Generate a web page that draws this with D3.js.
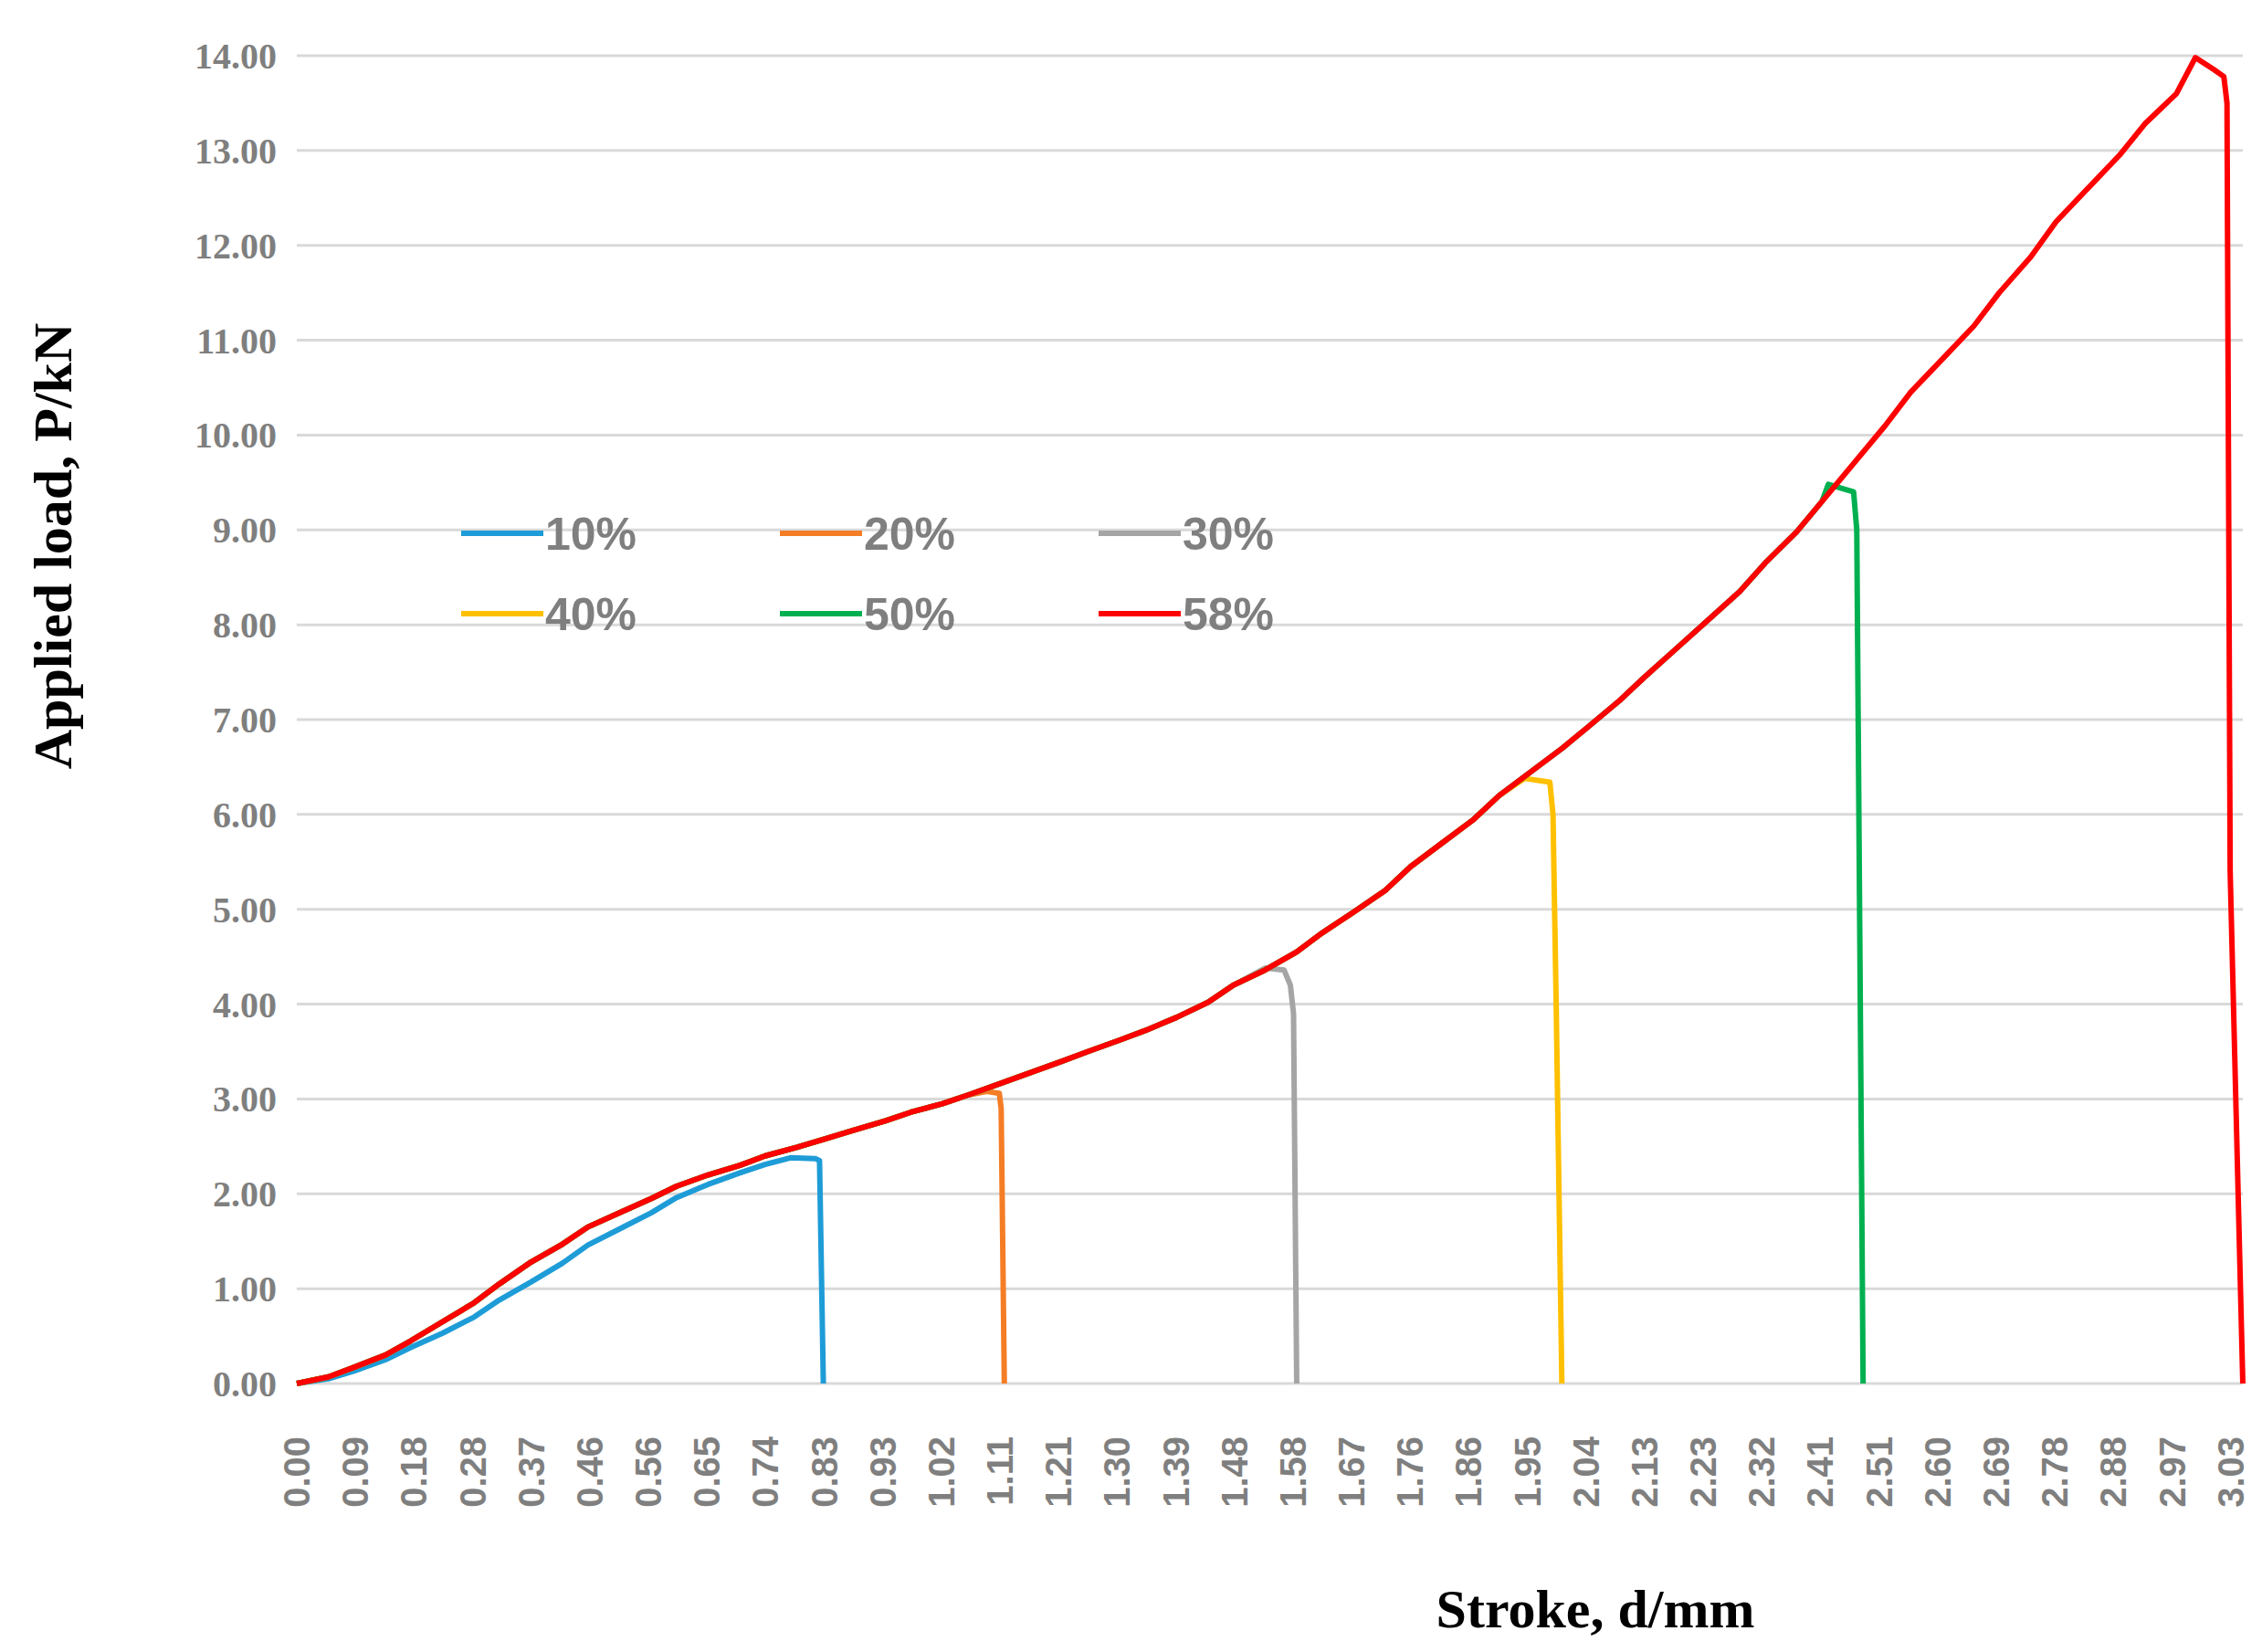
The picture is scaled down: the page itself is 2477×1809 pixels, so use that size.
<!DOCTYPE html>
<html>
<head>
<meta charset="utf-8">
<script src="https://cdn.jsdelivr.net/npm/d3@7/dist/d3.min.js"></script>
<style>
  body { margin: 0; background: #fff; }
</style>
</head>
<body>
<svg id="chart" width="2477" height="1809"></svg>
<script>
// x tick labels (category axis in the original)
var xTickLabels = ["0.00","0.09","0.18","0.28","0.37","0.46","0.56","0.65","0.74","0.83","0.93","1.02","1.11","1.21","1.30","1.39","1.48","1.58","1.67","1.76","1.86","1.95","2.04","2.13","2.23","2.32","2.41","2.51","2.60","2.69","2.78","2.88","2.97","3.03"];
var yTicks = [0,1,2,3,4,5,6,7,8,9,10,11,12,13,14];

// shared loading envelope [stroke mm, load kN]
var envelope = [[0,0],[0.05,0.07],[0.09,0.17],[0.14,0.3],[0.18,0.45],[0.23,0.65],[0.28,0.85],[0.32,1.05],[0.37,1.28],[0.42,1.47],[0.46,1.65],[0.51,1.8],[0.56,1.95],[0.60,2.08],[0.65,2.2],[0.70,2.3],[0.74,2.4],[0.79,2.49],[0.83,2.57],[0.88,2.67],[0.93,2.77],[0.97,2.86],[1.02,2.95],[1.06,3.04],[1.11,3.16],[1.16,3.28],[1.21,3.4],[1.25,3.5],[1.30,3.62],[1.34,3.72],[1.39,3.86],[1.44,4.02],[1.48,4.2],[1.53,4.36],[1.58,4.55],[1.62,4.75],[1.67,4.97],[1.72,5.2],[1.76,5.45],[1.81,5.7],[1.86,5.95],[1.90,6.2],[1.95,6.45],[2.00,6.7],[2.04,6.92],[2.09,7.2],[2.13,7.45],[2.18,7.75],[2.23,8.05],[2.28,8.35],[2.32,8.65],[2.37,8.98],[2.41,9.3],[2.46,9.7],[2.51,10.1],[2.55,10.45],[2.60,10.8],[2.65,11.15],[2.69,11.5],[2.74,11.88],[2.78,12.25],[2.83,12.6],[2.88,12.95],[2.92,13.28],[2.97,13.6]];

// blue curve lies below the envelope
var s10 = [[0,0],[0.05,0.05],[0.09,0.13],[0.14,0.25],[0.18,0.38],[0.23,0.53],[0.28,0.7],[0.32,0.88],[0.37,1.07],[0.42,1.27],[0.46,1.46],[0.51,1.63],[0.56,1.8],[0.60,1.96],[0.65,2.1],[0.70,2.22],[0.74,2.31],[0.78,2.38],[0.82,2.37],[0.826,2.35],[0.832,0]];
// tails of the other series after leaving the envelope
var tail20 = [[1.09,3.08],[1.11,3.06],[1.113,2.9],[1.118,0]];
var tail30 = [[1.53,4.38],[1.56,4.36],[1.57,4.2],[1.575,3.9],[1.58,0]];
var tail40 = [[1.94,6.38],[1.98,6.34],[1.985,6.0],[1.99,4.0],[1.999,0]];
var tail50 = [[2.42,9.48],[2.46,9.4],[2.465,9.0],[2.475,0]];
var tail58 = [[3.0,13.98],[3.03,13.85],[3.045,13.78],[3.05,13.5],[3.055,5.4],[3.075,0]];

var names = ["10%","20%","30%","40%","50%","58%"];
var colors = ["#1e9cd7","#f47d25","#a5a5a5","#ffc000","#00b050","#ff0000"];

function withTail(tail) {
  return envelope.filter(function(p) { return p[0] < tail[0][0]; }).concat(tail);
}
var series = [s10, withTail(tail20), withTail(tail30), withTail(tail40), withTail(tail50), withTail(tail58)];

var svg = d3.select("#chart");
var plotLeft = 325, plotRight = 2456, plotTop = 61, plotBottom = 1515;
var step = 0.0926;

var x = d3.scaleLinear().domain([0, 3.075]).range([plotLeft, plotRight]);
var y = d3.scaleLinear().domain([0, 14]).range([plotBottom, plotTop]);

// gridlines
svg.append("g").selectAll("line").data(yTicks).enter().append("line")
  .attr("x1", plotLeft).attr("x2", plotRight)
  .attr("y1", function(d) { return y(d); }).attr("y2", function(d) { return y(d); })
  .attr("stroke", "#d9d9d9").attr("stroke-width", 3);

// y tick labels
svg.append("g").selectAll("text").data(yTicks).enter().append("text")
  .attr("x", 303).attr("y", function(d) { return y(d); })
  .attr("dy", "0.35em").attr("text-anchor", "end")
  .attr("font-family", "Liberation Serif").attr("font-weight", "bold")
  .attr("font-size", 40).attr("fill", "#7f7f7f")
  .text(function(d) { return d.toFixed(2); });

// x tick labels
svg.append("g").selectAll("text").data(xTickLabels).enter().append("text")
  .attr("transform", function(d, i) { return "translate(" + (x(i * step) + 14) + ",1573) rotate(-90)"; })
  .attr("text-anchor", "end")
  .attr("font-family", "Liberation Sans").attr("font-weight", "bold")
  .attr("font-size", 40).attr("fill", "#7f7f7f")
  .text(function(d) { return d; });

// lines
var line = d3.line().x(function(d) { return x(d[0]); }).y(function(d) { return y(d[1]); });
svg.append("g").selectAll("path").data(series).enter().append("path")
  .attr("d", line).attr("fill", "none")
  .attr("stroke", function(d, i) { return colors[i]; })
  .attr("stroke-width", 6).attr("stroke-linejoin", "round");

// legend
var legend = svg.append("g").selectAll("g").data(names).enter().append("g")
  .attr("transform", function(d, i) { return "translate(" + (505 + (i % 3) * 349) + "," + (584 + Math.floor(i / 3) * 88) + ")"; });
legend.append("line").attr("x1", 0).attr("x2", 90)
  .attr("stroke", function(d, i) { return colors[i]; }).attr("stroke-width", 6);
legend.append("text").attr("x", 92).attr("dy", "0.35em")
  .attr("font-family", "Liberation Sans").attr("font-weight", "bold")
  .attr("font-size", 50).attr("fill", "#7f7f7f")
  .text(function(d) { return d; });

// axis titles
svg.append("text").attr("transform", "translate(78,598) rotate(-90)")
  .attr("text-anchor", "middle").attr("font-family", "Liberation Serif")
  .attr("font-weight", "bold").attr("font-size", 60).attr("fill", "#000")
  .text("Applied load, P/kN");
svg.append("text").attr("x", 1747).attr("y", 1782)
  .attr("text-anchor", "middle").attr("font-family", "Liberation Serif")
  .attr("font-weight", "bold").attr("font-size", 60).attr("fill", "#000")
  .text("Stroke, d/mm");
</script>
</body>
</html>
